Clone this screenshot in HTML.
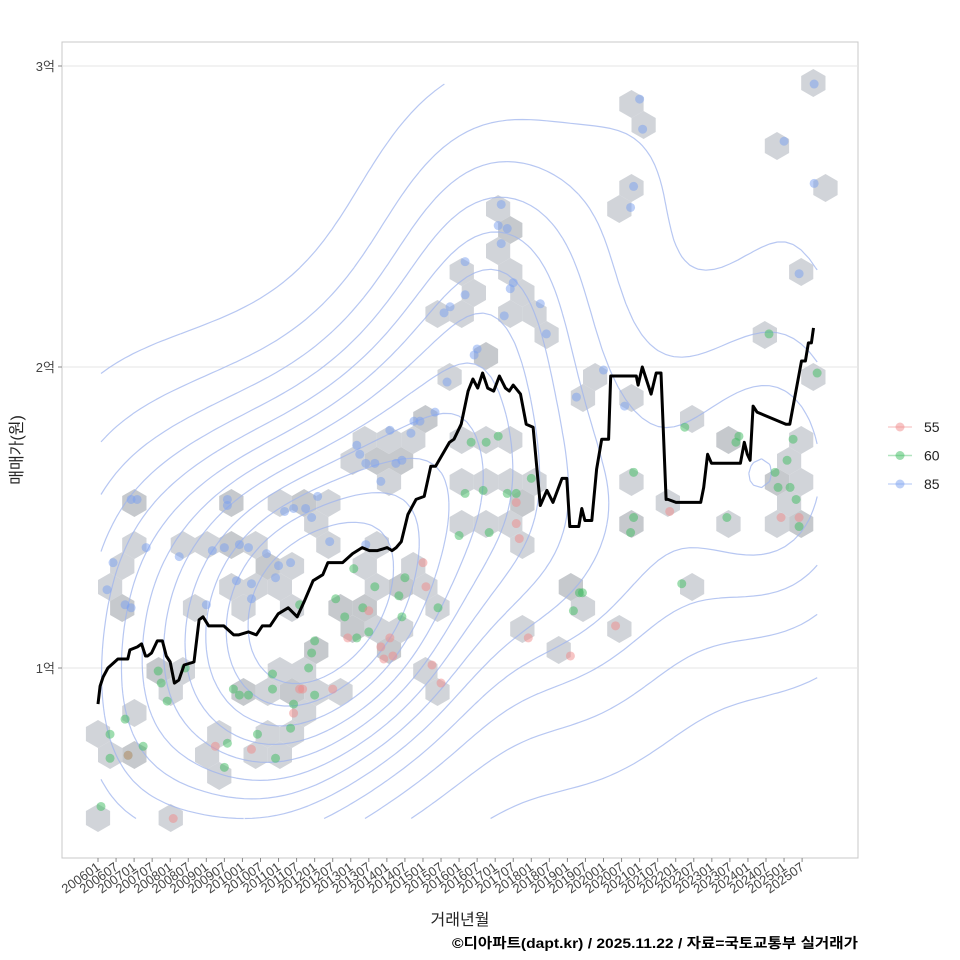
<!DOCTYPE html>
<html><head><meta charset="utf-8">
<style>
html,body{margin:0;padding:0;background:#fff;}
svg{display:block;font-family:"Liberation Sans","Noto Sans CJK KR",sans-serif;}
</style></head>
<body>
<svg id="chart" width="960" height="960" viewBox="0 0 960 960" xmlns="http://www.w3.org/2000/svg">
<rect x="0" y="0" width="960" height="960" fill="#fff"/>
<rect x="62" y="42" width="796" height="816" fill="#fff" stroke="#c8c8c8" stroke-width="1"/>
<g id="grid"></g>
<g id="hexes"></g>
<g id="contours"></g>
<g id="points"></g>
<g id="line"></g>
<g id="yaxis"></g>
<g id="xaxis"></g>
<text transform="translate(22,450) rotate(-90)" text-anchor="middle" font-size="16" fill="#222">매매가(원)</text>
<text x="460" y="925" text-anchor="middle" font-size="16" fill="#222">거래년월</text>
<text x="452" y="948" textLength="406" lengthAdjust="spacingAndGlyphs" font-size="14" font-weight="bold" fill="#000">©디아파트(dapt.kr) / 2025.11.22 / 자료=국토교통부 실거래가</text>
<g id="legend"></g>
</svg>
<script>
// ---- data ----
const lineMonths = [0,0.7,1.7,3.3,6.6,9.9,10.6,13.1,14.5,15.8,16.5,17.8,19.7,21.4,22.7,24,25.4,26.9,28.6,31.9,33.6,34.9,36.8,38.8,41.8,45.1,46.7,50,52.6,54.6,57.2,59.9,63.2,66.2,68.5,71.5,74.7,76.4,79.1,81.3,84.6,87.8,90.2,92.9,96.1,97.7,99.1,100.8,103,105.7,108.4,110.6,112.2,116.8,118.3,120.7,123,124.6,126.2,127.8,129.5,131.5,133.4,135.4,136.7,138,140.4,142.3,144.6,147,149.2,151.2,154.2,155.8,156.8,159.8,160.8,161.8,164.1,165.7,167.4,169.7,170.4,172.3,178.9,179.5,180.9,182.2,183.8,185.5,187.1,188.8,189.4,192.1,200.3,201.3,202.6,203.9,211.8,213.5,214.8,215.8,216.7,217.7,219,228.6,229.9,233.8,235.1,236.1,237.1,237.8];
const lineValues = [0.88,0.94,0.97,1.0,1.03,1.03,1.06,1.07,1.08,1.04,1.04,1.05,1.09,1.09,1.04,1.02,0.95,0.96,1.01,1.02,1.16,1.17,1.14,1.14,1.14,1.11,1.11,1.12,1.11,1.14,1.14,1.18,1.2,1.17,1.22,1.29,1.31,1.35,1.35,1.35,1.38,1.4,1.39,1.39,1.4,1.39,1.4,1.42,1.51,1.56,1.57,1.67,1.67,1.75,1.76,1.81,1.92,1.96,1.93,1.98,1.93,1.92,1.97,1.93,1.92,1.94,1.91,1.81,1.8,1.54,1.59,1.55,1.63,1.63,1.47,1.47,1.53,1.49,1.49,1.66,1.76,1.76,1.97,1.97,1.97,1.94,2.0,1.96,1.91,1.98,1.98,1.56,1.56,1.55,1.55,1.6,1.71,1.68,1.68,1.68,1.75,1.71,1.69,1.87,1.85,1.81,1.81,2.02,2.02,2.08,2.08,2.13,2.08];
const ptMonths = [3,5,11,13,16,9,11,27,36,38,42,43,43,47,50,51,51,46,56,59,60,64,62,65,69,73,71,77,89,86,87,89,92,94,97,99,101,105,104,107,112,116,115,117,122,122,126,125,133,134,136,134,135,137,138,147,149,159,168,180,181,178,177,175,228,238,233,238,
 1,4,9,4,10,15,20,21,23,29,45,47,50,42,43,53,59,64,65,58,58,67,72,71,70,72,79,82,85,86,88,90,92,100,101,102,113,120,122,124,129,133,128,136,139,130,144,158,160,161,178,178,177,195,194,209,213,212,223,225,226,230,231,232,233,239,229,
 10,25,39,51,65,67,68,78,83,90,94,95,97,98,111,109,108,114,139,139,140,143,157,172,190,227,233];
const ptValues = [1.26,1.35,1.56,1.56,1.40,1.21,1.20,1.37,1.21,1.39,1.40,1.56,1.54,1.41,1.40,1.23,1.28,1.29,1.38,1.30,1.34,1.35,1.52,1.53,1.53,1.57,1.50,1.42,1.41,1.74,1.71,1.68,1.68,1.62,1.79,1.68,1.69,1.82,1.78,1.82,1.85,1.95,2.18,2.20,2.35,2.24,2.06,2.04,2.47,2.54,2.46,2.41,2.17,2.26,2.28,2.21,2.11,1.90,1.99,2.89,2.79,2.60,2.53,1.87,2.75,2.61,2.31,2.94,
 0.54,0.78,0.83,0.70,0.71,0.74,0.99,0.95,0.89,1.00,0.93,0.91,0.91,0.67,0.75,0.78,0.70,0.80,0.88,0.93,0.98,1.21,1.09,1.05,1.00,0.91,1.23,1.17,1.33,1.10,1.20,1.12,1.27,1.24,1.17,1.30,1.20,1.44,1.58,1.75,1.75,1.77,1.59,1.58,1.58,1.45,1.63,1.19,1.25,1.25,1.65,1.50,1.45,1.80,1.28,1.50,1.77,1.75,2.11,1.65,1.60,1.60,1.76,1.56,1.47,1.98,1.69,
 0.71,0.50,0.74,0.73,0.85,0.93,0.93,0.93,1.10,1.19,1.07,1.03,1.10,1.04,1.01,1.27,1.35,0.95,1.55,1.48,1.43,1.10,1.04,1.14,1.52,1.50,1.50];
const ptTypes = [].concat(Array(68).fill('85'), Array(67).fill('60'), Array(27).fill('55'));
const seriesNames = ['55','60','85'];
const yTickValues = [1,2,3];
const yTickLabels = ['1억','2억','3억'];
const xTickLabels = [];
for (let y=2006;y<=2025;y++){ xTickLabels.push(y+'01'); xTickLabels.push(y+'07'); }
// ---- scales ----
const NS='http://www.w3.org/2000/svg';
const xS = m => 98 + m*3.009;
const yS = v => 668 - (v-1)*301;
const colors = {'55':'#f08a8a','60':'#3dbb60','85':'#7aa0f0'};
function el(tag, attrs, parent){ const e=document.createElementNS(NS,tag); for(const k in attrs) e.setAttribute(k,attrs[k]); parent.appendChild(e); return e; }
const G = id => document.getElementById(id);
// grid + y axis
yTickValues.forEach((v,i)=>{
  const g=el('line',{x1:62,x2:858,y1:yS(v),y2:yS(v),stroke:'#e6e6e6','stroke-width':1},G('grid'));
  
  
  const t=el('line',{x1:58,x2:62,y1:yS(v),y2:yS(v),stroke:'#888'},G('yaxis'));
  
  
  const tx=el('text',{x:55,y:yS(v)+5,'text-anchor':'end','font-size':13,fill:'#444'},G('yaxis'));
  tx.textContent=yTickLabels[i];
  
  
});
// x axis
xTickLabels.forEach((lab,i)=>{
  const x=xS(i*6);
  const t=el('line',{x1:x,x2:x,y1:858,y2:862,stroke:'#888'},G('xaxis'));
  
  
  const tx=el('text',{transform:`translate(${x+3},${869}) rotate(-35)`,'text-anchor':'end','font-size':13,fill:'#444'},G('xaxis'));
  tx.textContent=lab;
  
  
});
// hexbin
const R=14, HW=R*Math.sqrt(3), HV=R*1.5, ox=98, oy=818;
const bins={};
ptMonths.forEach((m,i)=>{
  const px=xS(m), py=yS(ptValues[i]);
  let best=null,bd=1e9;
  const r0=Math.round((py-oy)/HV);
  for(let r=r0-1;r<=r0+1;r++){
    const off=(((r%2)+2)%2)*HW/2;
    const c0=Math.round((px-ox-off)/HW);
    for(let c=c0-1;c<=c0+1;c++){
      const cx=ox+off+c*HW, cy=oy+r*HV, d=(cx-px)**2+(cy-py)**2;
      if(d<bd){bd=d;best=[cx,cy,r+'_'+c];}
    }
  }
  if(!bins[best[2]]) bins[best[2]]={x:best[0],y:best[1],n:0};
  bins[best[2]].n++;
});
Object.values(bins).forEach(b=>{
  let pts=[];
  for(let k=0;k<6;k++){const a=Math.PI/180*(60*k-90); pts.push((b.x+R*Math.cos(a)).toFixed(1)+','+(b.y+R*Math.sin(a)).toFixed(1));}
  const h=el('polygon',{points:pts.join(' '),fill:b.n>1?'#c3c6ca':'#c9cdd2','fill-opacity':b.n>1?0.95:0.85},G('hexes'));
  
  
});
// KDE contours
(function(){
  const x0=xS(Math.min(...ptMonths)), x1=xS(Math.max(...ptMonths));
  const y0=yS(Math.max(...ptValues)), y1=yS(Math.min(...ptValues));
  const NX=90, NY=100, hx=66, hy=100;
  const grid=[];let mx=0;
  const P=ptMonths.map((m,i)=>[xS(m),yS(ptValues[i])]);
  for(let j=0;j<=NY;j++){const row=[];const gy=y0+(y1-y0)*j/NY;
    for(let i=0;i<=NX;i++){const gx=x0+(x1-x0)*i/NX;let s=0;
      for(const p of P){const dx=(gx-p[0])/hx, dy=(gy-p[1])/hy; s+=Math.exp(-0.5*(dx*dx+dy*dy));}
      row.push(s); if(s>mx)mx=s;}
    grid.push(row);}
  const levels=[];for(let k=1;k<=12;k++) levels.push(mx*(0.05+0.075*(k-1)));
  const gx=i=>x0+(x1-x0)*i/NX, gy=j=>y0+(y1-y0)*j/NY;
  levels.forEach(L=>{
    let d='';
    for(let j=0;j<NY;j++)for(let i=0;i<NX;i++){
      const v=[grid[j][i],grid[j][i+1],grid[j+1][i+1],grid[j+1][i]];
      const c=[[gx(i),gy(j)],[gx(i+1),gy(j)],[gx(i+1),gy(j+1)],[gx(i),gy(j+1)]];
      const e=[];
      for(let k=0;k<4;k++){const a=v[k],b=v[(k+1)%4];
        if((a<L)!==(b<L)){const t=(L-a)/(b-a);const p=c[k],q=c[(k+1)%4];e.push([p[0]+(q[0]-p[0])*t,p[1]+(q[1]-p[1])*t]);}}
      for(let k=0;k+1<e.length;k+=2) d+=`M${e[k][0].toFixed(1)},${e[k][1].toFixed(1)}L${e[k+1][0].toFixed(1)},${e[k+1][1].toFixed(1)}`;
    }
    const p=el('path',{d:d,fill:'none',stroke:'#9fb4ee','stroke-width':1.2,'stroke-opacity':0.75},G('contours'));
    
    
  });
})();
// points
ptMonths.forEach((m,i)=>{
  const c=el('circle',{cx:xS(m),cy:yS(ptValues[i]),r:4.5,fill:colors[ptTypes[i]],'fill-opacity':0.5},G('points'));
  
  
});
// line
const ld=lineMonths.map((m,i)=>(i?'L':'M')+xS(m).toFixed(1)+','+yS(lineValues[i]).toFixed(1)).join('');
const lp=el('path',{d:ld,fill:'none',stroke:'#000','stroke-width':3,'stroke-linejoin':'round'},G('line'));


// legend
seriesNames.forEach((s,i)=>{
  const y=427+i*28.5;
  const l=el('line',{x1:888,x2:912,y1:y,y2:y,stroke:colors[s],'stroke-opacity':0.4,'stroke-width':1.5},G('legend'));
  
  
  const c=el('circle',{cx:900,cy:y,r:4.5,fill:colors[s],'fill-opacity':0.5},G('legend'));
  
  
  const t=el('text',{x:924,y:y+5,'font-size':14,fill:'#222'},G('legend'));
  t.textContent=s;
  
  
});
</script>
</body></html>
